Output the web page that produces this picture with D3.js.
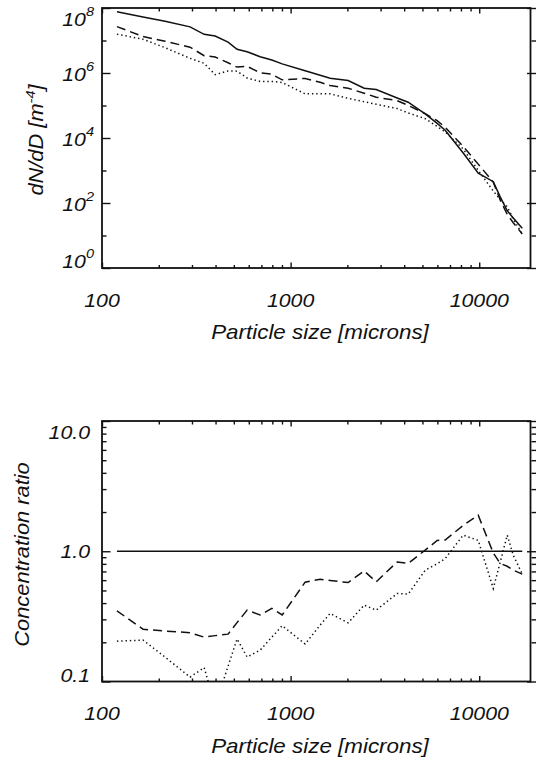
<!DOCTYPE html>
<html><head><meta charset="utf-8">
<script src="https://cdn.jsdelivr.net/npm/d3@7"></script>
<style>
body{margin:0;background:#fff}
svg{display:block}
text{font-family:"Liberation Sans",Arial,Helvetica,sans-serif;font-style:italic;fill:#111}
</style>
</head><body>
<svg id="chart" width="536" height="760"></svg>
<script>
// ---- data ----
const sizes = [120,165,216,293,348,398,466,520,588,689,795,902,1194,1434,1620,2018,2455,2842,3673,4200,5170,5985,6600,8225,9880,11870,12920,14080,15150,16910];
const dndSolid  = [7.69e7,5.25e7,3.89e7,2.63e7,1.55e7,1.38e7,8.91e6,5.37e6,4.52e6,3.16e6,2.51e6,1.91e6,1.17e6,8.51e5,6.87e5,5.89e5,3.39e5,3.09e5,1.70e5,1.26e5,5.50e4,2.82e4,1.74e4,3.47e3,832,452,155,57.5,34.7,16.6];
const dndDashed = [2.68e7,1.32e7,9.48e6,6.22e6,3.40e6,3.10e6,2.06e6,1.52e6,1.60e6,1.02e6,9.14e5,6.17e5,6.80e5,5.19e5,4.10e5,3.39e5,2.39e5,1.80e5,1.41e5,1.01e5,5.60e4,3.42e4,2.13e4,5.50e3,1.57e3,439,125,44.2,24.8,11.1];
const dndDotted = [1.57e7,1.09e7,6.00e6,2.83e6,1.99e6,8.91e5,1.16e6,1.14e6,6.97e5,5.51e5,5.51e5,5.11e5,2.28e5,2.31e5,2.29e5,1.66e5,1.31e5,1.09e5,8.05e4,5.90e4,3.93e4,2.26e4,1.53e4,4.60e3,1.01e3,234,128,76.3,32.3,11.1];
const ratioSolid  = [1,1,1,1,1,1,1,1,1,1,1,1,1,1,1,1,1,1,1,1,1,1,1,1,1,1,1,1,1,1];
const ratioDashed = [0.349,0.252,0.244,0.237,0.219,0.225,0.231,0.283,0.353,0.324,0.364,0.324,0.579,0.610,0.596,0.575,0.706,0.582,0.828,0.805,1.02,1.21,1.22,1.58,1.89,0.970,0.805,0.767,0.715,0.667];
const ratioDotted = [0.204,0.208,0.154,0.108,0.128,0.065,0.131,0.212,0.154,0.174,0.219,0.268,0.194,0.271,0.333,0.282,0.386,0.353,0.474,0.468,0.715,0.802,0.879,1.33,1.21,0.518,0.824,1.33,0.932,0.667];
const xMajorTicks = [100,1000,10000];
const xTickLabels = ["100","1000","10000"];
const xMinorTicks = [200,300,400,500,600,700,800,900,2000,3000,4000,5000,6000,7000,8000,9000];
const topMajorExps = [0,2,4,6,8];
const topMinorExps = [1,3,5,7];
const botMajorTicks = [0.1,1,10];
const botTickLabels = ["0.1","1.0","10.0"];
const botMinorTicks = [0.2,0.3,0.4,0.5,0.6,0.7,0.8,0.9,2,3,4,5,6,7,8,9];
const xTitle = "Particle size [microns]";
const botYTitle = "Concentration ratio";

// ---- layout ----
const svg = d3.select("#chart");
const L = 102, R = 530.5, RT = 536;
const P1 = {top: 8, bottom: 268};
const P2 = {top: 421, bottom: 681.5};
const x = d3.scaleLog().domain([100, 18700]).range([L, R]);
const yTop = d3.scaleLog().domain([1, 1e8]).range([P1.bottom, P1.top]);
const yBot = d3.scaleLog().domain([0.1, 10]).range([P2.bottom, P2.top]);
const SX = 1.12; // horizontal stretch of the IDL font

const defs = svg.append("defs");
[["c1",P1],["c2",P2]].forEach(([id,p])=>{
  defs.append("clipPath").attr("id",id).append("rect")
    .attr("x",L).attr("y",p.top).attr("width",R-L).attr("height",p.bottom-p.top);
});

function axisGroup(axis, tx, ty){
  const g = svg.append("g").attr("transform",`translate(${tx},${ty})`).call(axis);
  g.select(".domain").remove();
  g.selectAll("line").attr("stroke","#111").attr("stroke-width",1.4);
  g.selectAll("text").remove();
  return g;
}

function drawFrame(p, yScale, yMajors, yMinors){
  // x ticks bottom & top
  axisGroup(d3.axisBottom(x).tickValues(xMajorTicks).tickSize(-5.5), 0, p.bottom);
  axisGroup(d3.axisBottom(x).tickValues(xMinorTicks).tickSize(-3), 0, p.bottom);
  axisGroup(d3.axisTop(x).tickValues(xMajorTicks).tickSize(-5.5), 0, p.top);
  axisGroup(d3.axisTop(x).tickValues(xMinorTicks).tickSize(-3.5), 0, p.top);
  // y ticks left
  axisGroup(d3.axisLeft(yScale).tickValues(yMajors).tickSize(-8.5), L, 0);
  axisGroup(d3.axisLeft(yScale).tickValues(yMinors).tickSize(-4.5), L, 0);
  // y ticks right (drawn from image edge)
  axisGroup(d3.axisRight(yScale).tickValues(yMajors).tickSize(-9), RT, 0);
  axisGroup(d3.axisRight(yScale).tickValues(yMinors).tickSize(-4.5), RT, 0);
  svg.append("rect").attr("x",L).attr("y",p.top).attr("width",R-L).attr("height",p.bottom-p.top)
    .attr("fill","none").attr("stroke","#111").attr("stroke-width",1.8);
}

function stretchedText(tx, ty, anchor, size, rot){
  return svg.append("text")
    .attr("transform",`translate(${tx},${ty})${rot?` rotate(${rot})`:""} scale(${SX},1)`)
    .attr("text-anchor",anchor).attr("font-size",size);
}

function xLabels(p){
  xMajorTicks.forEach((v,i)=>{
    stretchedText(x(v), p.bottom+38.5, "middle", 19).text(xTickLabels[i]);
  });
  stretchedText(320, p.bottom+71, "middle", 20).text(xTitle);
}

const styles = [
  {dash:null},
  {dash:"9,5"},
  {dash:"1.4,2.9"}
];
function drawSeries(yScale, clip, seriesList){
  const line = d3.line().x(d=>x(d[0])).y(d=>yScale(d[1]));
  seriesList.forEach((vals,i)=>{
    svg.append("path").datum(d3.zip(sizes, vals))
      .attr("clip-path",`url(#${clip})`)
      .attr("d", line).attr("fill","none").attr("stroke","#111")
      .attr("stroke-width", i===0?1.5:1.5)
      .attr("stroke-dasharray", styles[i].dash);
  });
}

// ---- top panel ----
drawSeries(yTop, "c1", [dndSolid, dndDashed, dndDotted]);
drawFrame(P1, yTop, topMajorExps.map(e=>Math.pow(10,e)), topMinorExps.map(e=>Math.pow(10,e)));
topMajorExps.forEach(e=>{
  const ty = yTop(Math.pow(10,e));
  const off = e===8 ? 18 : (e===0 ? 0 : 8);
  const t = stretchedText(94, ty+off, "end", 19);
  t.append("tspan").text("10");
  t.append("tspan").attr("dy",-10).attr("font-size",13).text(String(e));
});
xLabels(P1);
{
  const t = stretchedText(43, 140, "middle", 19.5, -90);
  t.append("tspan").text("dN/dD [m");
  t.append("tspan").attr("dy",-8).attr("font-size",13).text("-4");
  t.append("tspan").attr("dy",8).text("]");
}

// ---- bottom panel ----
drawSeries(yBot, "c2", [ratioSolid, ratioDashed, ratioDotted]);
drawFrame(P2, yBot, botMajorTicks, botMinorTicks);
botMajorTicks.forEach((v,i)=>{
  const ty = yBot(v);
  const off = i===2 ? 18 : (i===0 ? 0 : 7);
  stretchedText(90, ty+off, "end", 19).text(botTickLabels[i]);
});
xLabels(P2);
stretchedText(28.5, 554.5, "middle", 19.5, -90).text(botYTitle);
</script>
</body></html>
